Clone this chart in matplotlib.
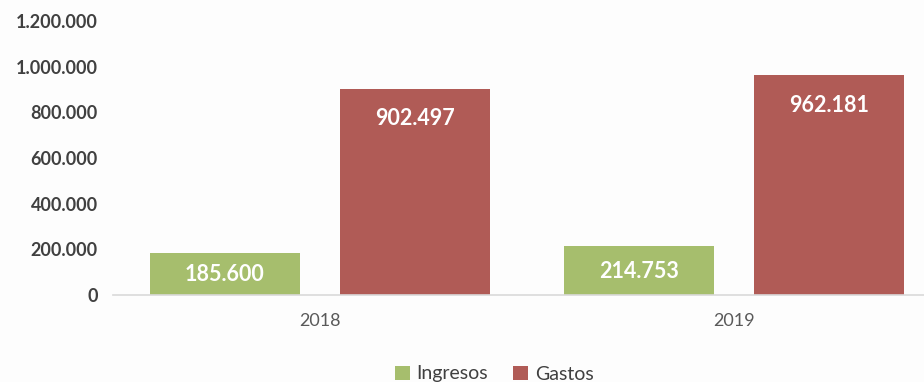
import matplotlib.pyplot as plt
import numpy as np

plt.rcParams['font.family'] = ['Lato', 'DejaVu Sans']

years = ['2018', '2019']
ingresos = [185600, 214753]
gastos = [902497, 962181]
yticks = [0, 200000, 400000, 600000, 800000, 1000000, 1200000]

green = '#A6BE6D'
red = '#B05B56'
text_dark = '#404040'


def fmt(v):
    # thousands separated by dots
    return f'{v:,}'.replace(',', '.')


fig = plt.figure(figsize=(9.24, 3.82), dpi=100)
fig.patch.set_facecolor('#FDFDFD')
ax = fig.add_axes([113 / 924, 1 - 295 / 382, 828 / 924, 274 / 382])
ax.set_facecolor('#FDFDFD')

x = np.arange(len(years))
w = 0.362
b1 = ax.bar(x - 0.23, ingresos, w, color=green, label='Ingresos')
b2 = ax.bar(x + 0.23, gastos, w, color=red, label='Gastos')

# labels: small bars centred, tall bars near the top
for rect, v in zip(b1, ingresos):
    ax.text(rect.get_x() + rect.get_width() / 2, v / 2 - 4000, fmt(v),
            ha='center', va='center', color='white', fontsize=15.5, fontweight='bold')
for rect, v in zip(b2, gastos):
    ax.annotate(fmt(v), (rect.get_x() + rect.get_width() / 2, v),
                xytext=(0, -14), textcoords='offset points',
                ha='center', va='top', color='white', fontsize=15.5, fontweight='bold')

ax.set_xlim(-0.5, 1.5)
ax.set_ylim(0, 1200000)
ax.set_xticks(x)
ax.set_xticklabels(years, fontsize=13, color='#595959')
ax.set_yticks(yticks)
ax.set_yticklabels([fmt(t) for t in yticks], fontsize=13, fontweight='bold', color=text_dark)
ax.tick_params(axis='y', length=0, pad=11)
ax.tick_params(axis='x', length=0, pad=13)

for side in ['top', 'right', 'left']:
    ax.spines[side].set_visible(False)
ax.spines['bottom'].set_color('#D9D9D9')
ax.spines['bottom'].set_linewidth(1.2)

leg = fig.legend(loc='center', bbox_to_anchor=(0.535, 1 - 374 / 382), ncol=2,
                 frameon=False, fontsize=14, handlelength=0.75, handleheight=0.75,
                 handletextpad=0.35, columnspacing=1.3, labelcolor=text_dark)

fig.savefig('out.png', dpi=100, facecolor=fig.get_facecolor())
